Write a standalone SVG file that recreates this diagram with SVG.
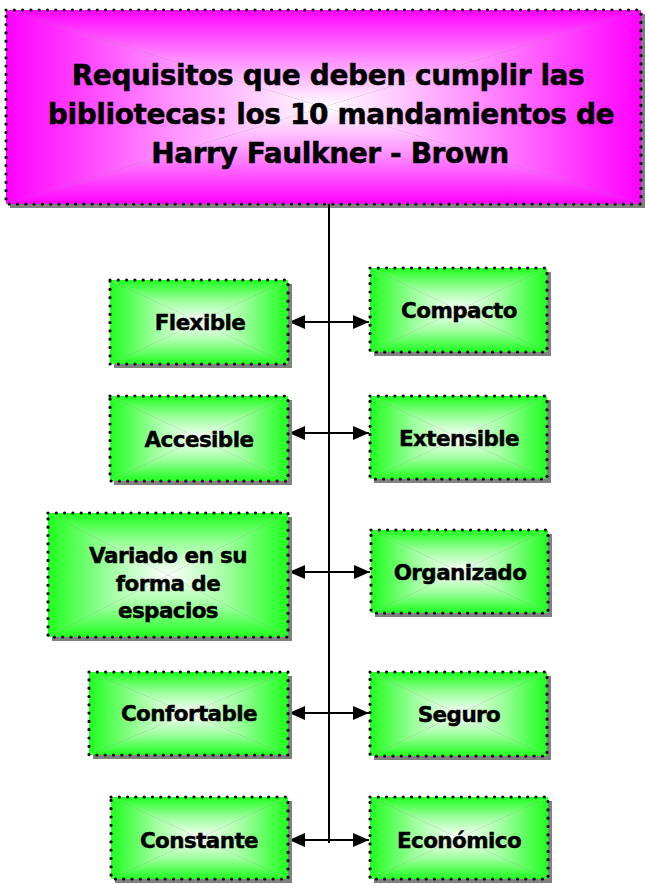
<svg xmlns="http://www.w3.org/2000/svg" width="646" height="884" viewBox="0 0 646 884">
<defs>
<linearGradient id="gT" x1="0" y1="0" x2="0" y2="1"><stop offset="0" stop-color="#1eff1e"/><stop offset="0.5" stop-color="#9dff9d"/><stop offset="1" stop-color="#ffffff"/></linearGradient>
<linearGradient id="gB" x1="0" y1="0" x2="0" y2="1"><stop offset="0" stop-color="#ffffff"/><stop offset="0.5" stop-color="#9dff9d"/><stop offset="1" stop-color="#1eff1e"/></linearGradient>
<linearGradient id="gL" x1="0" y1="0" x2="1" y2="0"><stop offset="0" stop-color="#1eff1e"/><stop offset="0.5" stop-color="#9dff9d"/><stop offset="1" stop-color="#ffffff"/></linearGradient>
<linearGradient id="gR" x1="0" y1="0" x2="1" y2="0"><stop offset="0" stop-color="#ffffff"/><stop offset="0.5" stop-color="#9dff9d"/><stop offset="1" stop-color="#1eff1e"/></linearGradient>
<linearGradient id="mT" x1="0" y1="0" x2="0" y2="1"><stop offset="0" stop-color="#ff00ff"/><stop offset="0.5" stop-color="#ff8cff"/><stop offset="1" stop-color="#ffffff"/></linearGradient>
<linearGradient id="mB" x1="0" y1="0" x2="0" y2="1"><stop offset="0" stop-color="#ffffff"/><stop offset="0.5" stop-color="#ff8cff"/><stop offset="1" stop-color="#ff00ff"/></linearGradient>
<linearGradient id="mL" x1="0" y1="0" x2="1" y2="0"><stop offset="0" stop-color="#ff00ff"/><stop offset="0.5" stop-color="#ff8cff"/><stop offset="1" stop-color="#ffffff"/></linearGradient>
<linearGradient id="mR" x1="0" y1="0" x2="1" y2="0"><stop offset="0" stop-color="#ffffff"/><stop offset="0.5" stop-color="#ff8cff"/><stop offset="1" stop-color="#ff00ff"/></linearGradient>
<marker id="ah" markerUnits="userSpaceOnUse" markerWidth="16" markerHeight="14" refX="16" refY="7" orient="auto-start-reverse"><path d="M0,0 L16,7 L0,14 Z" fill="#000"/></marker>
</defs>
<style>
.sh{fill:#808080}
.bd{fill:none;stroke:#000;stroke-width:3.2;stroke-dasharray:0 8.3;stroke-linecap:round}
.lb{font-family:"DejaVu Sans",Verdana,sans-serif;font-weight:bold;font-size:21.5px;letter-spacing:-0.6px;fill:#000;stroke:#000;stroke-width:0.45;text-anchor:middle}
.tt{font-family:"DejaVu Sans",Verdana,sans-serif;font-weight:bold;font-size:28px;letter-spacing:-0.4px;fill:#000;stroke:#000;stroke-width:0.5;text-anchor:middle}
.cn{stroke:#000;stroke-width:2;fill:none}
</style>
<rect width="646" height="884" fill="#fff"/>

<g id="title">
<rect class="sh" x="10" y="14" width="635" height="194"/>
<polygon points="6,10 641,10 323.5,107" fill="url(#mT)"/>
<polygon points="6,204 641,204 323.5,107" fill="url(#mB)"/>
<polygon points="6,10 6,204 323.5,107" fill="url(#mL)"/>
<polygon points="641,10 641,204 323.5,107" fill="url(#mR)"/>
<rect class="bd" x="6" y="10" width="635" height="194"/>
<text class="tt" x="328" y="85">Requisitos que deben cumplir las</text>
<text class="tt" x="331" y="124">bibliotecas: los 10 mandamientos de</text>
<text class="tt" x="330" y="163">Harry Faulkner - Brown</text>
</g>

<g id="connectors">
<line class="cn" x1="329" y1="204" x2="329" y2="843"/>
<line class="cn" x1="289" y1="322" x2="369" y2="322" marker-start="url(#ah)" marker-end="url(#ah)"/>
<line class="cn" x1="289" y1="433" x2="369" y2="433" marker-start="url(#ah)" marker-end="url(#ah)"/>
<line class="cn" x1="289" y1="572" x2="370" y2="572" marker-start="url(#ah)" marker-end="url(#ah)"/>
<line class="cn" x1="289" y1="713" x2="369" y2="713" marker-start="url(#ah)" marker-end="url(#ah)"/>
<line class="cn" x1="289" y1="840" x2="369" y2="840" marker-start="url(#ah)" marker-end="url(#ah)"/>
</g>

<g id="flexible">
<rect class="sh" x="114" y="284" width="178" height="84"/>
<polygon points="110,280 288,280 199,322" fill="url(#gT)"/>
<polygon points="110,364 288,364 199,322" fill="url(#gB)"/>
<polygon points="110,280 110,364 199,322" fill="url(#gL)"/>
<polygon points="288,280 288,364 199,322" fill="url(#gR)"/>
<rect class="bd" x="110" y="280" width="178" height="84"/>
<text class="lb" x="200" y="330">Flexible</text>
</g>

<g id="compacto">
<rect class="sh" x="374" y="272" width="177" height="84"/>
<polygon points="370,268 547,268 458.5,310" fill="url(#gT)"/>
<polygon points="370,352 547,352 458.5,310" fill="url(#gB)"/>
<polygon points="370,268 370,352 458.5,310" fill="url(#gL)"/>
<polygon points="547,268 547,352 458.5,310" fill="url(#gR)"/>
<rect class="bd" x="370" y="268" width="177" height="84"/>
<text class="lb" x="459" y="318">Compacto</text>
</g>

<g id="accesible">
<rect class="sh" x="114" y="400" width="178" height="85"/>
<polygon points="110,396 288,396 199,438.5" fill="url(#gT)"/>
<polygon points="110,481 288,481 199,438.5" fill="url(#gB)"/>
<polygon points="110,396 110,481 199,438.5" fill="url(#gL)"/>
<polygon points="288,396 288,481 199,438.5" fill="url(#gR)"/>
<rect class="bd" x="110" y="396" width="178" height="85"/>
<text class="lb" x="199" y="447">Accesible</text>
</g>

<g id="extensible">
<rect class="sh" x="374" y="400" width="177" height="83"/>
<polygon points="370,396 547,396 458.5,437.5" fill="url(#gT)"/>
<polygon points="370,479 547,479 458.5,437.5" fill="url(#gB)"/>
<polygon points="370,396 370,479 458.5,437.5" fill="url(#gL)"/>
<polygon points="547,396 547,479 458.5,437.5" fill="url(#gR)"/>
<rect class="bd" x="370" y="396" width="177" height="83"/>
<text class="lb" x="459" y="446">Extensible</text>
</g>

<g id="variado">
<rect class="sh" x="52" y="517" width="240" height="124"/>
<polygon points="48,513 288,513 168,575" fill="url(#gT)"/>
<polygon points="48,637 288,637 168,575" fill="url(#gB)"/>
<polygon points="48,513 48,637 168,575" fill="url(#gL)"/>
<polygon points="288,513 288,637 168,575" fill="url(#gR)"/>
<rect class="bd" x="48" y="513" width="240" height="124"/>
<text class="lb" x="168" y="563">Variado en su</text>
<text class="lb" x="168" y="591">forma de</text>
<text class="lb" x="168" y="618">espacios</text>
</g>

<g id="organizado">
<rect class="sh" x="375" y="534" width="177" height="83"/>
<polygon points="371,530 548,530 459.5,571.5" fill="url(#gT)"/>
<polygon points="371,613 548,613 459.5,571.5" fill="url(#gB)"/>
<polygon points="371,530 371,613 459.5,571.5" fill="url(#gL)"/>
<polygon points="548,530 548,613 459.5,571.5" fill="url(#gR)"/>
<rect class="bd" x="371" y="530" width="177" height="83"/>
<text class="lb" x="460" y="580">Organizado</text>
</g>

<g id="confortable">
<rect class="sh" x="93" y="676" width="199" height="83"/>
<polygon points="89,672 288,672 188.5,713.5" fill="url(#gT)"/>
<polygon points="89,755 288,755 188.5,713.5" fill="url(#gB)"/>
<polygon points="89,672 89,755 188.5,713.5" fill="url(#gL)"/>
<polygon points="288,672 288,755 188.5,713.5" fill="url(#gR)"/>
<rect class="bd" x="89" y="672" width="199" height="83"/>
<text class="lb" x="189" y="721">Confortable</text>
</g>

<g id="seguro">
<rect class="sh" x="374" y="676" width="177" height="84"/>
<polygon points="370,672 547,672 458.5,714" fill="url(#gT)"/>
<polygon points="370,756 547,756 458.5,714" fill="url(#gB)"/>
<polygon points="370,672 370,756 458.5,714" fill="url(#gL)"/>
<polygon points="547,672 547,756 458.5,714" fill="url(#gR)"/>
<rect class="bd" x="370" y="672" width="177" height="84"/>
<text class="lb" x="459" y="722">Seguro</text>
</g>

<g id="constante">
<rect class="sh" x="115" y="801" width="177" height="82"/>
<polygon points="111,797 288,797 199.5,838" fill="url(#gT)"/>
<polygon points="111,879 288,879 199.5,838" fill="url(#gB)"/>
<polygon points="111,797 111,879 199.5,838" fill="url(#gL)"/>
<polygon points="288,797 288,879 199.5,838" fill="url(#gR)"/>
<rect class="bd" x="111" y="797" width="177" height="82"/>
<text class="lb" x="199" y="848">Constante</text>
</g>

<g id="economico">
<rect class="sh" x="374" y="801" width="178" height="82"/>
<polygon points="370,797 548,797 459,838" fill="url(#gT)"/>
<polygon points="370,879 548,879 459,838" fill="url(#gB)"/>
<polygon points="370,797 370,879 459,838" fill="url(#gL)"/>
<polygon points="548,797 548,879 459,838" fill="url(#gR)"/>
<rect class="bd" x="370" y="797" width="178" height="82"/>
<text class="lb" x="459" y="848">Económico</text>
</g>
</svg>
